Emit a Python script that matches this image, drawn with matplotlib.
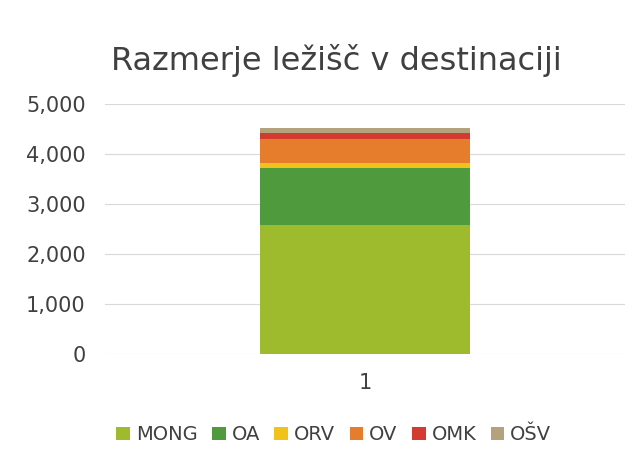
import matplotlib.pyplot as plt

categories = ['1']
series = ['MONG', 'OA', 'ORV', 'OV', 'OMK', 'OŠV']
values = [2580, 1140, 100, 480, 120, 100]
colors = ['#9dbb2c', '#4f9a3c', '#f1c21a', '#e57d2c', '#d43b30', '#b3a27c']


def main():
	fig = plt.figure(figsize=(6.41, 4.62), dpi=100)
	ax = fig.add_axes([0.164, 0.234, 0.811, 0.541])

	bottom = 0
	for name, val, col in zip(series, values, colors):
		ax.bar(categories, [val], bottom=bottom, width=0.404, color=col, label=name, zorder=3)
		bottom += val

	ax.set_ylim(0, 5000)
	ax.set_xlim(-0.5, 0.5)
	ax.set_yticks(range(0, 5001, 1000))
	ax.set_yticklabels(['{:,}'.format(v) for v in range(0, 5001, 1000)])
	ax.grid(axis='y', color='#d9d9d9', linewidth=0.8, zorder=0)
	for side in ['top', 'right', 'left', 'bottom']:
		ax.spines[side].set_visible(False)
	ax.tick_params(axis='both', length=0, labelsize=15, colors='#404040')
	ax.tick_params(axis='y', pad=14)
	ax.tick_params(axis='x', pad=14)

	fig.suptitle('Razmerje ležišč v destinaciji', x=0.524, y=0.905, fontsize=23, color='#404040')
	ax.legend(loc='center', bbox_to_anchor=(0.44, -0.324), ncol=6, frameon=False,
		fontsize=14, handlelength=0.7, handleheight=0.7, handletextpad=0.3, columnspacing=0.75,
		labelcolor='#404040')

	fig.savefig('out.png', dpi=100)


if __name__ == '__main__':
	main()
